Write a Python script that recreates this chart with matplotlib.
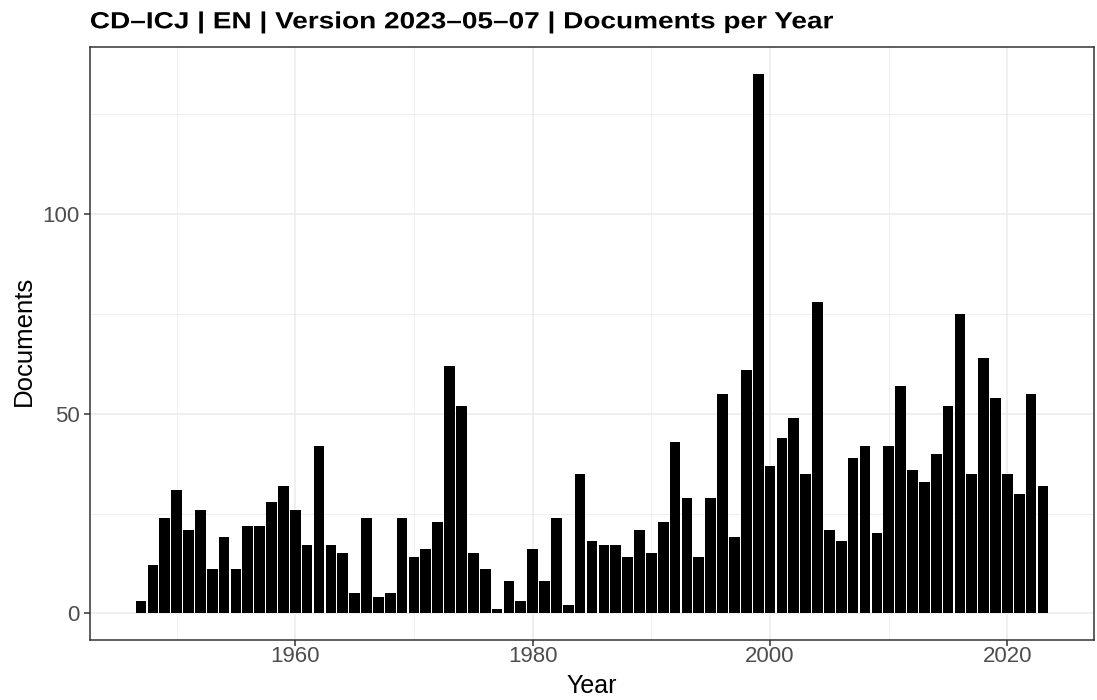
import matplotlib
matplotlib.use("Agg")
import matplotlib.pyplot as plt
from matplotlib.ticker import FixedLocator
from matplotlib import patheffects
from matplotlib.transforms import Affine2D

plt.rcParams['font.family'] = ['Liberation Sans', 'DejaVu Sans']

years = list(range(1947, 2024))
documents = [
    3, 12, 24, 31, 21, 26, 11, 19, 11, 22, 22, 28, 32, 26, 17, 42, 17, 15, 5, 24,
    4, 5, 24, 14, 16, 23, 62, 52, 15, 11, 1, 8, 3, 16, 8, 24, 2, 35, 18, 17,
    17, 14, 21, 15, 23, 43, 29, 14, 29, 55, 19, 61, 135, 37, 44, 49, 35, 78, 21, 18,
    39, 42, 20, 42, 57, 36, 33, 40, 52, 75, 35, 64, 54, 35, 30, 55, 32,
]
x_major = [1960, 1980, 2000, 2020]
x_minor = [1950, 1970, 1990, 2010]
y_major = [0, 50, 100]
y_minor = [25, 75, 125]

title = "CD\u2013ICJ | EN | Version 2023\u201305\u201307 | Documents per Year"


class Stretch(patheffects.AbstractPathEffect):
    """Widen glyphs along the text direction (text stays a Text artist)."""

    def __init__(self, sx, anchor="left"):
        super().__init__()
        self.sx = sx
        self.anchor = anchor

    def draw_path(self, renderer, gc, tpath, affine, rgbFace=None):
        ext = tpath.get_extents()
        cx = ext.x0 if self.anchor == "left" else (ext.x0 + ext.x1) / 2
        pre = Affine2D().translate(-cx, 0).scale(self.sx, 1).translate(cx, 0)
        renderer.draw_path(gc, tpath, pre + affine, rgbFace)


W, H = 1097, 700
fig = plt.figure(figsize=(W / 100, H / 100), dpi=100)
left, right, top, bottom = 90, 1094, 47.4, 640.3
ax = fig.add_axes([left / W, 1 - bottom / H, (right - left) / W, (bottom - top) / H])

ax.bar(years, documents, width=0.9, color="black", zorder=3)

lo, hi = years[0] - 0.45, years[-1] + 0.45
pad = (hi - lo) * 0.05
ax.set_xlim(lo - pad, hi + pad)
ymax = max(documents)
ax.set_ylim(-ymax * 0.05, ymax * 1.05)

ax.xaxis.set_major_locator(FixedLocator(x_major))
ax.xaxis.set_minor_locator(FixedLocator(x_minor))
ax.yaxis.set_major_locator(FixedLocator(y_major))
ax.yaxis.set_minor_locator(FixedLocator(y_minor))

ax.grid(which="major", color="#EBEBEB", linewidth=1.1, zorder=0)
ax.grid(which="minor", color="#EBEBEB", linewidth=0.55, zorder=0)
ax.set_axisbelow(True)

for s in ax.spines.values():
    s.set_color("#333333")
    s.set_linewidth(1.1)

ax.tick_params(which="major", length=4.5, width=1.1, color="#333333",
               labelsize=16, labelcolor="#4D4D4D")
ax.tick_params(axis="x", which="major", pad=-0.5)
ax.tick_params(axis="y", which="major", pad=3)
ax.tick_params(which="minor", length=0)

fig.text(left / W, 1 - 28.3 / H, title, fontsize=16.8, fontweight="bold",
         ha="left", va="baseline", color="black",
         path_effects=[Stretch(1.2, "left")])
fig.text((left + right) / 2 / W, 1 - 693 / H, "Year", fontsize=18,
         ha="center", va="baseline", color="black")
fig.text(23.5 / W, 1 - 341 / H, "Documents", fontsize=18.5,
         rotation=90, ha="center", va="center", color="black")

fig.savefig("out.png", dpi=100)
